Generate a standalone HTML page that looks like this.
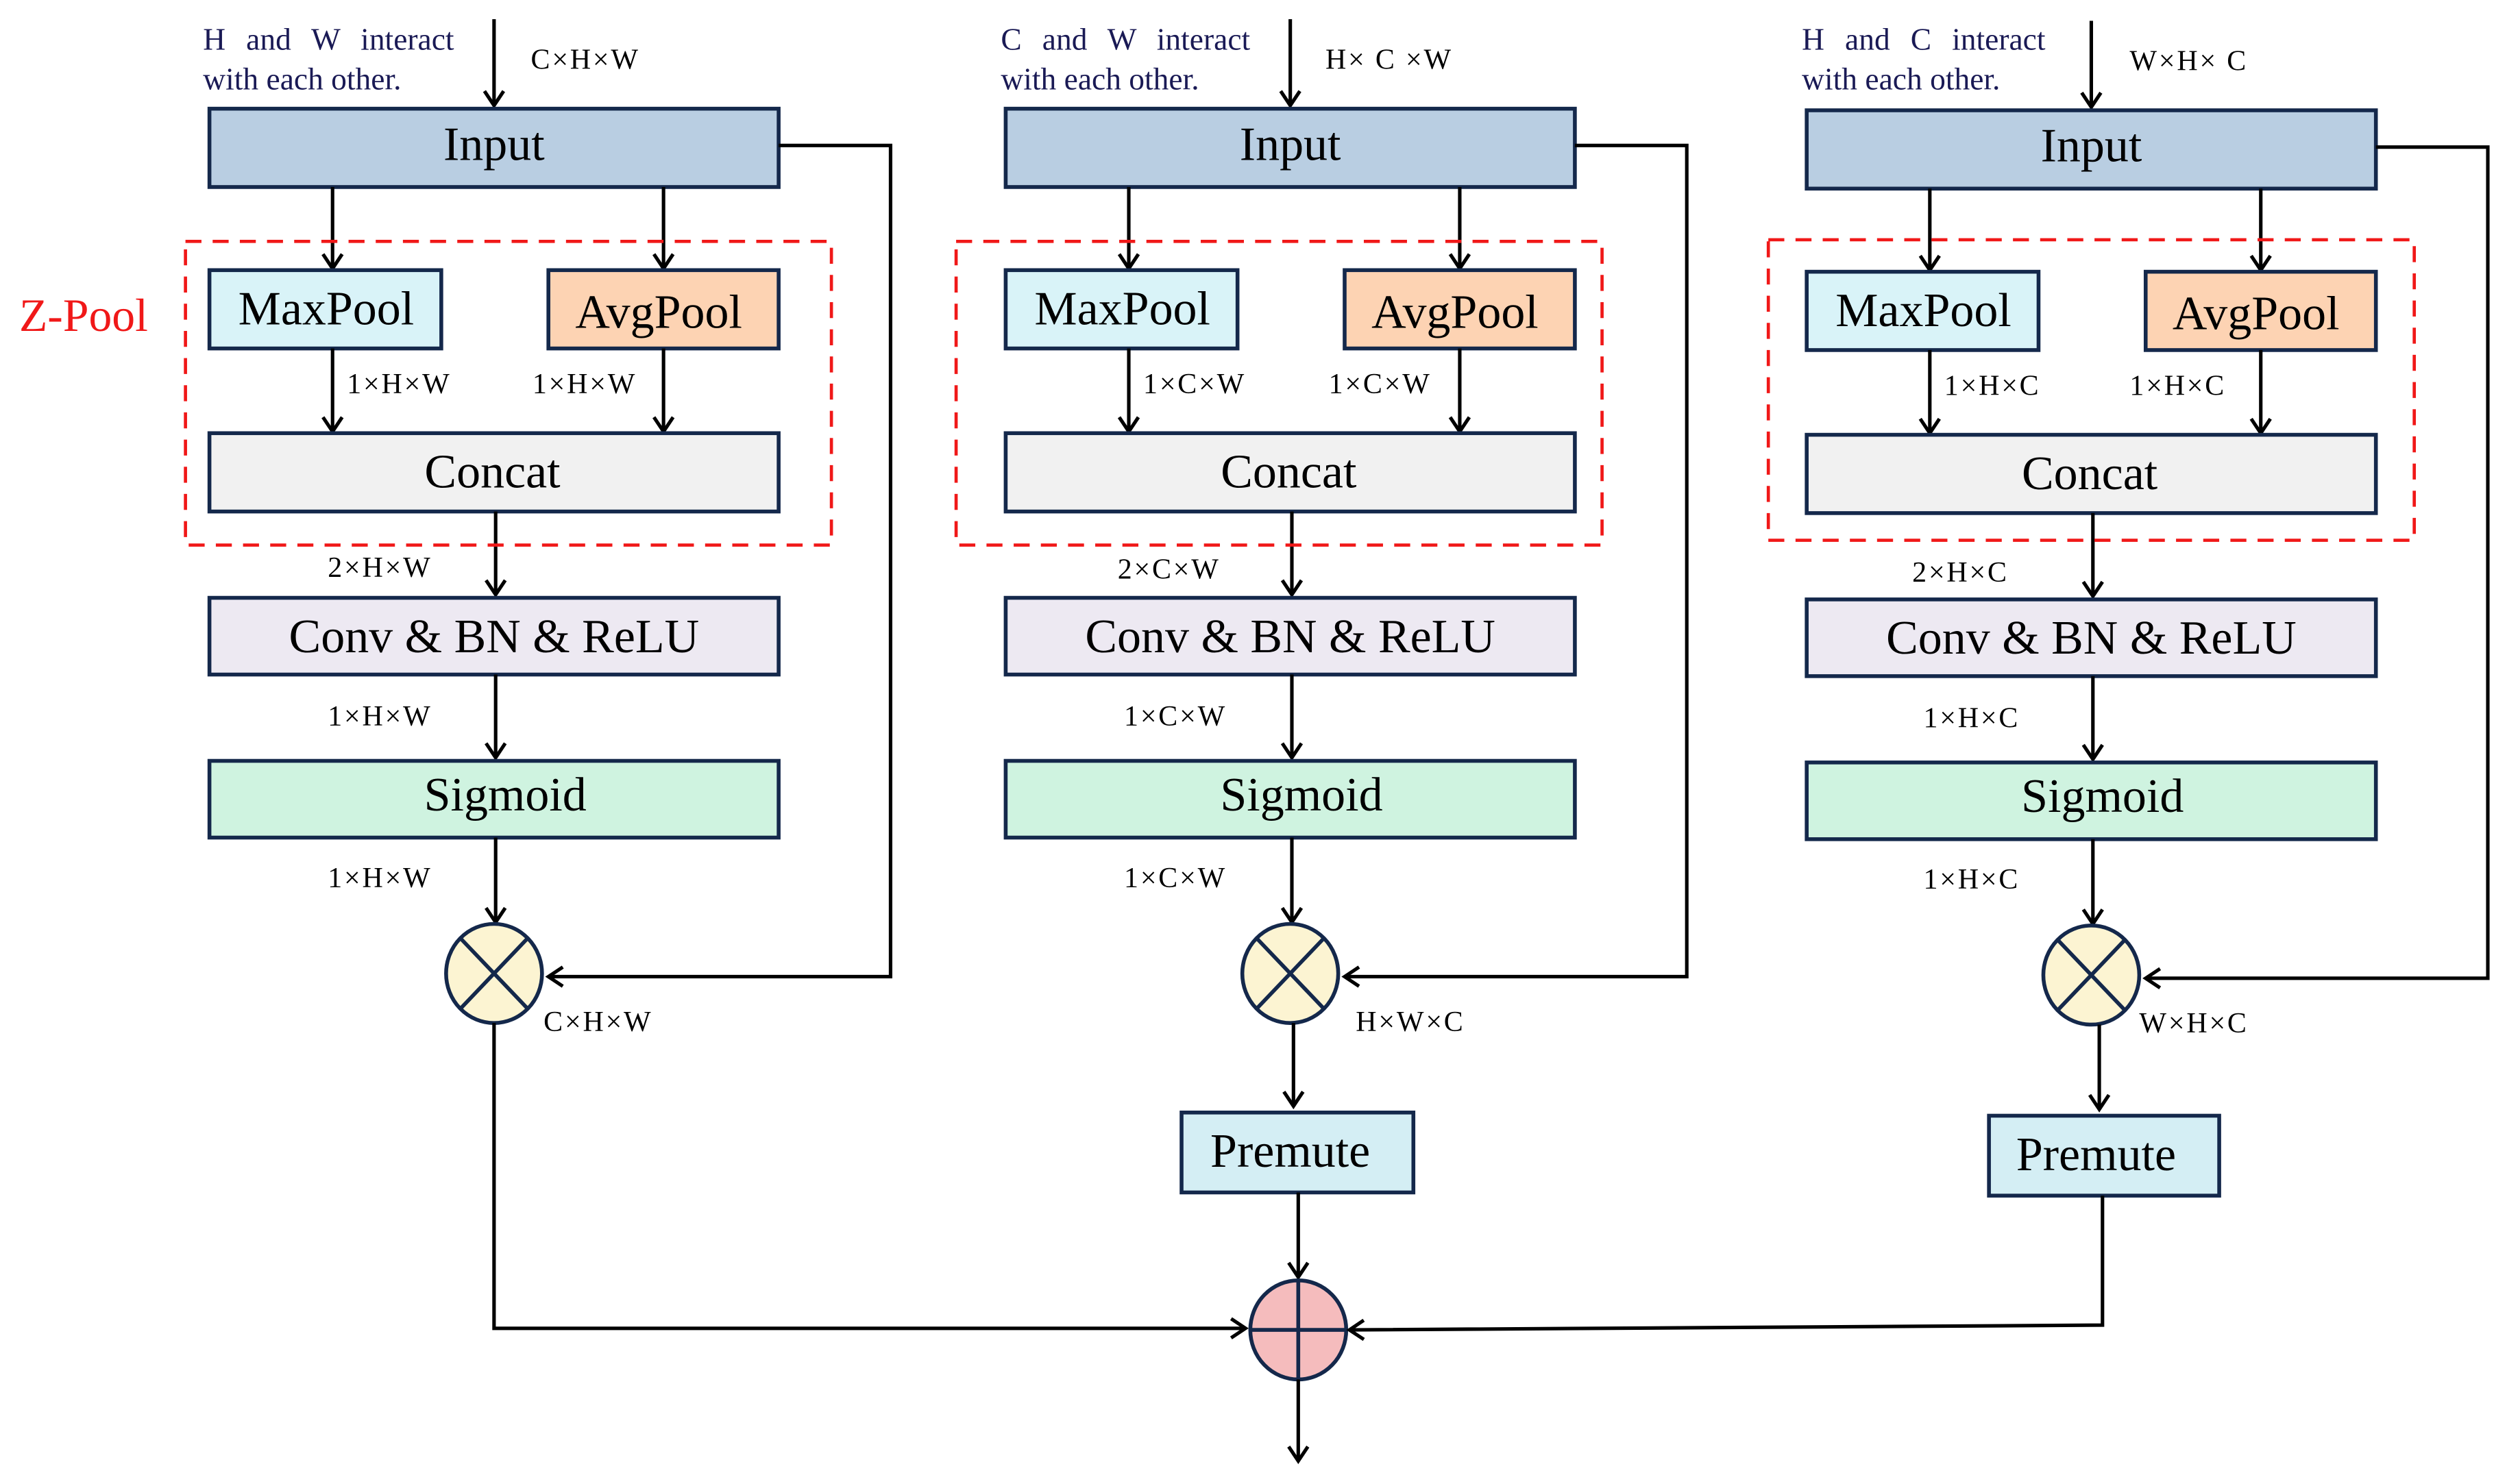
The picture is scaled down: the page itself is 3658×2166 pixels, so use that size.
<!DOCTYPE html>
<html><head><meta charset="utf-8"><style>
html,body{margin:0;padding:0;background:#fff}
svg{display:block}
text{font-family:"Liberation Serif",serif}
.bx{stroke:#14284b;stroke-width:2.4}
.ln{stroke:#000;stroke-width:2.2;fill:none}
.bt{font-size:30px;text-anchor:middle;fill:#000}
.sm{font-size:18px;fill:#000;letter-spacing:1.2px}
.nv{font-size:19.5px;fill:#1a1a55}
.dash{fill:none;stroke:#f01818;stroke-width:2;stroke-dasharray:10,7}
</style></head><body>
<svg width="3658" height="2166" viewBox="0 0 1568 928.4" preserveAspectRatio="none" xmlns="http://www.w3.org/2000/svg">
<defs>
<marker id="a" markerWidth="14" markerHeight="14" refX="11" refY="7" orient="auto" markerUnits="userSpaceOnUse">
<path d="M2,1 L11,7 L2,13" fill="none" stroke="#000" stroke-width="2.2"/>
</marker>
<g id="col">
  <line class="ln" x1="178" y1="12" x2="178" y2="66" marker-end="url(#a)"/>
  <rect class="bx" x="0" y="68" width="356" height="49" fill="#b9cee2"/>
  <text class="bt" x="178" y="100">Input</text>
  <polyline class="ln" points="356,91 426,91 426,611 212,611" marker-end="url(#a)"/>
  <line class="ln" x1="77" y1="117" x2="77" y2="168" marker-end="url(#a)"/>
  <line class="ln" x1="284" y1="117" x2="284" y2="168" marker-end="url(#a)"/>
  <rect class="bx" x="0" y="169" width="145" height="49" fill="#d9f3f8"/>
  <text class="bt" x="73" y="203">MaxPool</text>
  <rect class="bx" x="212" y="169" width="144" height="49" fill="#fdd3b3"/>
  <text class="bt" x="281" y="205">AvgPool</text>
  <line class="ln" x1="77" y1="218" x2="77" y2="270" marker-end="url(#a)"/>
  <line class="ln" x1="284" y1="218" x2="284" y2="270" marker-end="url(#a)"/>
  <rect class="bx" x="0" y="271" width="356" height="49" fill="#f1f1f1"/>
  <text class="bt" x="177" y="305">Concat</text>
  <line class="ln" x1="179" y1="320" x2="179" y2="372" marker-end="url(#a)"/>
  <rect class="bx" x="0" y="374" width="356" height="48" fill="#ede9f2"/>
  <text class="bt" x="178" y="408">Conv &amp; BN &amp; ReLU</text>
  <line class="ln" x1="179" y1="422" x2="179" y2="474" marker-end="url(#a)"/>
  <rect class="bx" x="0" y="476" width="356" height="48" fill="#cff3e0"/>
  <text class="bt" x="185" y="507">Sigmoid</text>
  <line class="ln" x1="179" y1="524" x2="179" y2="577" marker-end="url(#a)"/>
  <ellipse class="bx" cx="178" cy="609" rx="30" ry="31" fill="#fcf4d2"/>
  <line class="bx" x1="157" y1="587" x2="199" y2="631"/>
  <line class="bx" x1="199" y1="587" x2="157" y2="631"/>
</g>
</defs>

<text x="12" y="207" font-size="29" fill="#f01818">Z-Pool</text>

<!-- column 1 -->
<use href="#col" x="131" y="0"/>
<rect class="dash" x="116" y="151" width="404" height="190"/>
<text class="nv" x="127" y="31" word-spacing="8">H and W interact</text>
<text class="nv" x="127" y="56">with each other.</text>
<text class="sm" x="332" y="43">C×H×W</text>
<text class="sm" x="217" y="246">1×H×W</text>
<text class="sm" x="333" y="246">1×H×W</text>
<text class="sm" x="205" y="361">2×H×W</text>
<text class="sm" x="205" y="454">1×H×W</text>
<text class="sm" x="205" y="555">1×H×W</text>
<text class="sm" x="340" y="645">C×H×W</text>
<polyline class="ln" points="309,640 309,831 779,831" marker-end="url(#a)"/>

<!-- column 2 -->
<use href="#col" x="629" y="0"/>
<rect class="dash" x="598" y="151" width="404" height="190"/>
<text class="nv" x="626" y="31" word-spacing="8">C and W interact</text>
<text class="nv" x="626" y="56">with each other.</text>
<text class="sm" x="829" y="43">H× C ×W</text>
<text class="sm" x="715" y="246">1×C×W</text>
<text class="sm" x="831" y="246">1×C×W</text>
<text class="sm" x="699" y="362">2×C×W</text>
<text class="sm" x="703" y="454">1×C×W</text>
<text class="sm" x="703" y="555">1×C×W</text>
<text class="sm" x="848" y="645">H×W×C</text>
<line class="ln" x1="809" y1="640" x2="809" y2="692" marker-end="url(#a)"/>
<rect class="bx" x="739" y="696" width="145" height="50" fill="#d4eef4"/>
<text class="bt" x="807" y="730">Premute</text>
<line class="ln" x1="812" y1="746" x2="812" y2="799" marker-end="url(#a)"/>
<ellipse class="bx" cx="812" cy="832" rx="30" ry="31" fill="#f5bcbd"/>
<line class="bx" x1="812" y1="801" x2="812" y2="863"/>
<line class="bx" x1="782" y1="832" x2="842" y2="832"/>
<line class="ln" x1="812" y1="863" x2="812" y2="914" marker-end="url(#a)"/>

<!-- column 3 -->
<use href="#col" x="1130" y="1"/>
<rect class="dash" x="1106" y="150" width="404" height="188"/>
<text class="nv" x="1127" y="31" word-spacing="8">H and C interact</text>
<text class="nv" x="1127" y="56">with each other.</text>
<text class="sm" x="1332" y="44">W×H× C</text>
<text class="sm" x="1216" y="247">1×H×C</text>
<text class="sm" x="1332" y="247">1×H×C</text>
<text class="sm" x="1196" y="364">2×H×C</text>
<text class="sm" x="1203" y="455">1×H×C</text>
<text class="sm" x="1203" y="556">1×H×C</text>
<text class="sm" x="1338" y="646">W×H×C</text>
<line class="ln" x1="1313" y1="641" x2="1313" y2="694" marker-end="url(#a)"/>
<rect class="bx" x="1244" y="698" width="144" height="50" fill="#d4eef4"/>
<text class="bt" x="1311" y="732">Premute</text>
<polyline class="ln" points="1315,748 1315,829 844,832" marker-end="url(#a)"/>
</svg>
</body></html>
